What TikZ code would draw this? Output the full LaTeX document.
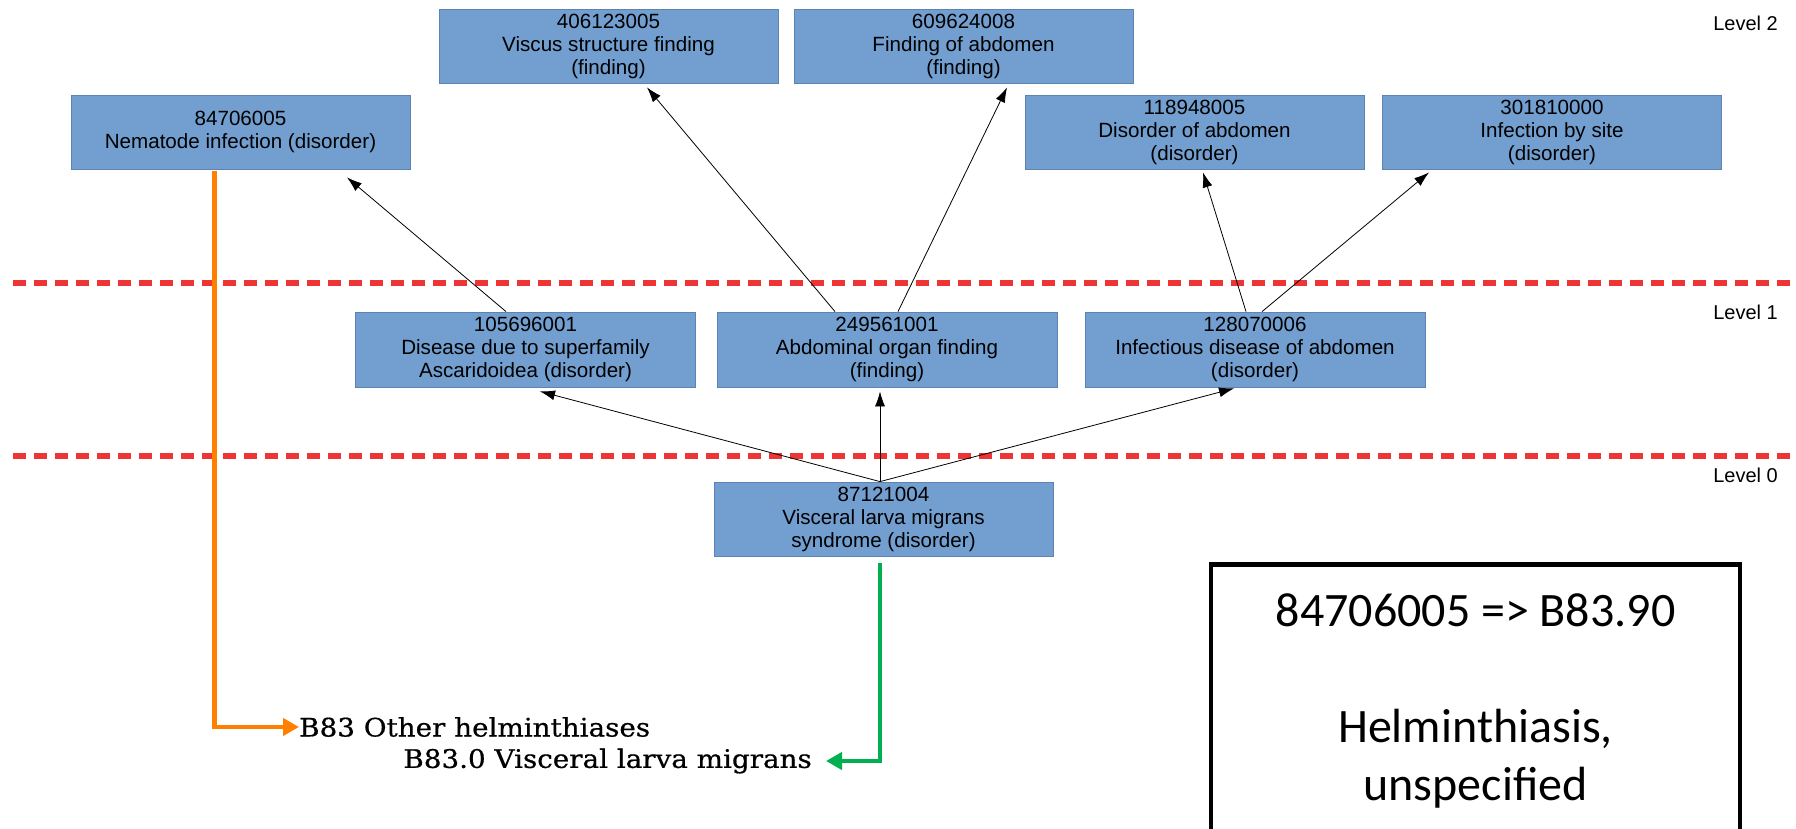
\documentclass[tikz,border=0pt]{standalone}
\usepackage{fontspec}
\setmainfont{Liberation Sans}
\newfontfamily\carl{Carlito}
\newfontfamily\dvs[FakeStretch=1.09,FakeBold=0.6]{DejaVu Serif}
\usetikzlibrary{arrows.meta}
\definecolor{boxfill}{HTML}{729FCF}
\definecolor{boxline}{HTML}{5B84B3}
\definecolor{dashred}{HTML}{EE3535}
\definecolor{orng}{HTML}{FF7F00}
\definecolor{grn}{HTML}{00B050}
\begin{document}
\begin{tikzpicture}[x=1pt,y=-1pt,
 concept/.style={draw=boxline, fill=boxfill, line width=0.8pt, minimum width=339pt, minimum height=74pt, inner sep=0pt, align=center, font=\fontsize{20.6}{23}\selectfont},
 isa/.style={-{Latex[length=15pt,width=10pt]}, line width=0.8pt, black},
 levellab/.style={anchor=east, font=\fontsize{20}{24}\selectfont, inner sep=0pt},
 sepline/.style={dashred, line width=5.5pt, dash pattern=on 13pt off 8pt},
 maparrow/.style={line width=4.5pt, -{Triangle[length=16pt,width=17pt]}},
 icd/.style={font=\dvs\fontsize{25.5}{30}\selectfont, inner sep=0pt}
]
\useasboundingbox (0,0) rectangle (1796,829);
\clip (0,0) rectangle (1796,829);
\fill[white] (0,0) rectangle (1796,829);

% separators
\draw[sepline] (13,283) -- (1796,283);
\draw[sepline] (13,456) -- (1796,456);

% level labels
\node[levellab] (lv2) at (1778,23) {Level 2};
\node[levellab] (lv1) at (1778,312) {Level 1};
\node[levellab] (lv0) at (1778,475) {Level 0};

% level 2
\node[concept] (n406) at (608.5,46) {406123005\\Viscus structure finding\\(finding)};
\node[concept] (n609) at (963.5,46) {609624008\\Finding of abdomen\\(finding)};
\node[concept] (n847) at (240.5,132) {84706005\\Nematode infection (disorder)};
\node[concept] (n118) at (1194.5,132) {118948005\\Disorder of abdomen\\(disorder)};
\node[concept] (n301) at (1552,132) {301810000\\Infection by site\\(disorder)};

% level 1
\node[concept, minimum width=340pt, minimum height=75pt] (n105) at (525.5,349.5) {105696001\\Disease due to superfamily\\Ascaridoidea (disorder)};
\node[concept, minimum width=340pt, minimum height=75pt] (n249) at (887,349.5) {249561001\\Abdominal organ finding\\(finding)};
\node[concept, minimum width=340pt, minimum height=75pt] (n128) at (1255,349.5) {128070006\\Infectious disease of abdomen\\(disorder)};

% level 0
\node[concept] (n871) at (883.5,519) {87121004\\Visceral larva migrans\\syndrome (disorder)};

% is-a arrows
\coordinate (top0) at ([xshift=-3.5pt]n871.north);
\draw[isa] (top0) -- ([xshift=14.5pt,yshift=-4pt]n105.south);
\draw[isa] (top0) -- ([xshift=-7pt,yshift=-4pt]n249.south);
\draw[isa] (top0) -- ([xshift=-21pt,yshift=-1pt]n128.south);
\draw[isa] ([xshift=-19.5pt]n105.north) -- ([xshift=106.5pt,yshift=-8pt]n847.south);
\draw[isa] ([xshift=-52pt]n249.north) -- ([xshift=38.5pt,yshift=-4pt]n406.south);
\draw[isa] ([xshift=11pt]n249.north) -- ([xshift=43.5pt,yshift=-4pt]n609.south);
\draw[isa] ([xshift=-9pt]n128.north) -- ([xshift=8.5pt,yshift=-3pt]n118.south);
\draw[isa] ([xshift=7pt]n128.north) -- ([xshift=-123pt,yshift=-3pt]n301.south);

% ICD texts
\node[icd, anchor=west] (b83) at (299,727) {B83 Other helminthiases};
\node[icd, anchor=east] (b830) at (812,761) {B83.0 Visceral larva migrans};

% mapping arrows
\draw[maparrow, orng] ([xshift=-26pt,yshift=-2pt]n847.south) |- (b83.west);
\coordinate (gend) at ([xshift=14pt]b830.east);
\draw[maparrow, grn] ([xshift=-3.5pt,yshift=-7pt]n871.south) |- (gend);

% result box
\node[draw=black, line width=4.5pt, minimum width=529pt, minimum height=273pt, anchor=north, inner sep=0pt, align=center, font=\carl\fontsize{48}{58}\selectfont] (map) at (1475.5,562) {84706005 => B83.90\\[58pt]Helminthiasis,\\unspecified};
\end{tikzpicture}
\end{document}
